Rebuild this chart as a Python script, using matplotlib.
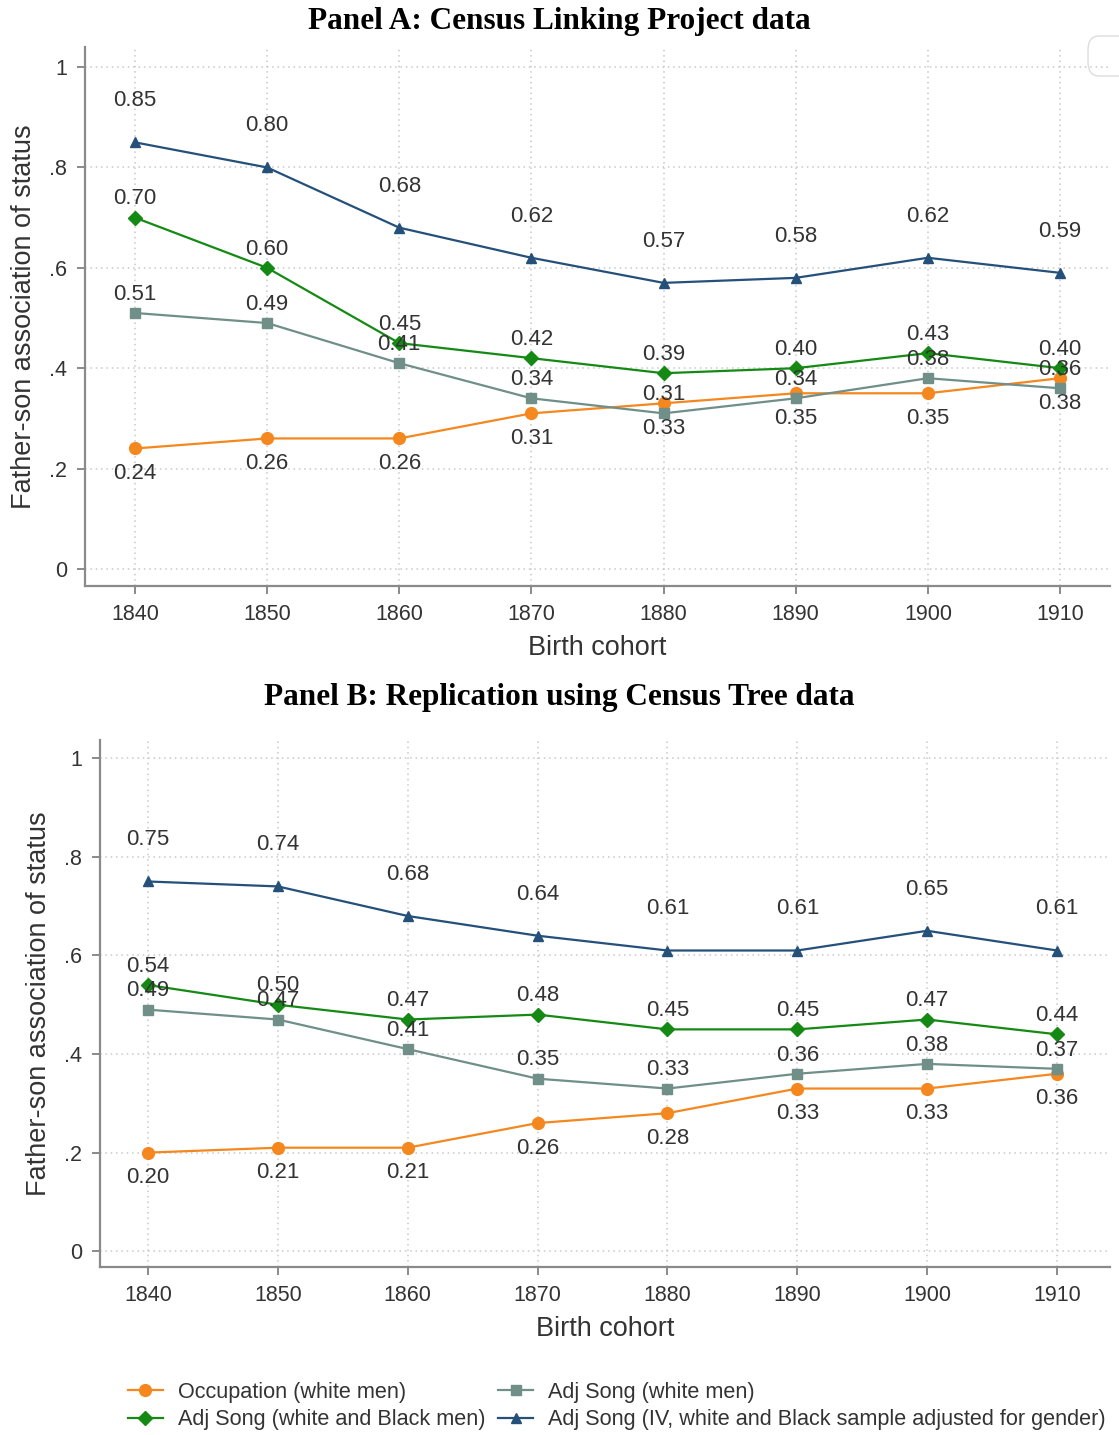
import matplotlib
matplotlib.use("Agg")
import matplotlib.pyplot as plt
from matplotlib.patches import FancyBboxPatch

# Birth cohorts and father-son associations
cohorts = [1840, 1850, 1860, 1870, 1880, 1890, 1900, 1910]

a_occupation = [0.24, 0.26, 0.26, 0.31, 0.33, 0.35, 0.35, 0.38]
a_song_white = [0.51, 0.49, 0.41, 0.34, 0.31, 0.34, 0.38, 0.36]
a_song_wb = [0.70, 0.60, 0.45, 0.42, 0.39, 0.40, 0.43, 0.40]
a_song_iv = [0.85, 0.80, 0.68, 0.62, 0.57, 0.58, 0.62, 0.59]

b_occupation = [0.20, 0.21, 0.21, 0.26, 0.28, 0.33, 0.33, 0.36]
b_song_white = [0.49, 0.47, 0.41, 0.35, 0.33, 0.36, 0.38, 0.37]
b_song_wb = [0.54, 0.50, 0.47, 0.48, 0.45, 0.45, 0.47, 0.44]
b_song_iv = [0.75, 0.74, 0.68, 0.64, 0.61, 0.61, 0.65, 0.61]

series_names = [
    "Occupation (white men)",
    "Adj Song (white men)",
    "Adj Song (white and Black men)",
    "Adj Song (IV, white and Black sample adjusted for gender)",
]
ytick_vals = [0, 0.2, 0.4, 0.6, 0.8, 1.0]
ytick_labels = ["0", ".2", ".4", ".6", ".8", "1"]

plt.rcParams["font.family"] = ["Liberation Sans", "DejaVu Sans"]

W, H = 1119, 1435
fig = plt.figure(figsize=(W / 100, H / 100), dpi=100)
fig.patch.set_facecolor("white")

ORANGE = "#F5871F"
GRAY = "#6F8F88"
GREEN = "#148A14"
BLUE = "#24507A"
TXT = "#333333"
AXC = "#8a8a8a"

styles = [
    dict(color=ORANGE, marker="o", ms=8.5, off=-18),
    dict(color=GRAY, marker="s", ms=7.5, off=13.5),
    dict(color=GREEN, marker="D", ms=7.5, off=13.5),
    dict(color=BLUE, marker="^", ms=7, off=30),
]


def px_axes(left, right, top, bottom):
    return fig.add_axes([left / W, 1 - bottom / H, (right - left) / W, (bottom - top) / H])


def draw_panel(ax, series, xlim, ylim, ylab_x):
    ax.set_xlim(*xlim)
    ax.set_ylim(*ylim)
    handles = []
    for vals, st, name in zip(series, styles, series_names):
        h, = ax.plot(cohorts, vals, color=st["color"], marker=st["marker"],
                     ms=st["ms"], lw=1.6, label=name, zorder=3)
        handles.append(h)
        for x, v in zip(cohorts, vals):
            ax.annotate(f"{v:.2f}", (x, v), xytext=(0, st["off"]),
                        textcoords="offset points", ha="center", va="center",
                        fontsize=16, color=TXT, zorder=4)
    ax.set_xticks(cohorts)
    ax.set_xticklabels([str(c) for c in cohorts])
    ax.set_yticks(ytick_vals)
    ax.set_yticklabels(ytick_labels)
    ax.grid(True, linestyle=(0, (1, 2.5)), color="#c8c8c8", linewidth=1.1)
    ax.set_axisbelow(True)
    for side in ["top", "right"]:
        ax.spines[side].set_visible(False)
    for side in ["left", "bottom"]:
        ax.spines[side].set_color(AXC)
        ax.spines[side].set_linewidth(1.6)
    ax.tick_params(axis="both", direction="out", length=6, width=1.4,
                   color=AXC, labelsize=15.5, labelcolor=TXT, pad=7)
    ax.set_xlabel("Birth cohort", fontsize=19.5, color=TXT, labelpad=7)
    ax.set_ylabel("Father-son association of status", fontsize=19.5, color=TXT)
    ax.yaxis.set_label_coords(ylab_x, 0.5)
    return handles


ax_a = px_axes(85, 1110, 47, 586)
draw_panel(ax_a, [a_occupation, a_song_white, a_song_wb, a_song_iv],
           (1836.22, 1913.78), (-0.034, 1.04), (37 - 85) / 1025)

ax_b = px_axes(100, 1110, 740, 1267)
handles = draw_panel(ax_b, [b_occupation, b_song_white, b_song_wb, b_song_iv],
                     (1836.30, 1914.08), (-0.032, 1.037), (52 - 100) / 1010)

title_font = ["Liberation Serif", "DejaVu Serif"]
fig.text(559 / W, 1 - 21 / H, "Panel A: Census Linking Project data",
         ha="center", va="center", fontsize=22.5, fontweight="bold",
         family=title_font, color="black")
fig.text(559 / W, 1 - 697 / H, "Panel B: Replication using Census Tree data",
         ha="center", va="center", fontsize=22.5, fontweight="bold",
         family=title_font, color="black")

# Legend: two columns, filled row by row
order = [0, 2, 1, 3]
fig.legend([handles[i] for i in order], [series_names[i] for i in order],
           ncol=2, loc="center", bbox_to_anchor=(617 / W, 1 - 1406 / H),
           frameon=False, fontsize=15.6, handlelength=1.6, columnspacing=0.6,
           handletextpad=0.7, labelspacing=0.32, labelcolor=TXT)

# faint rounded frame edge in the top-right corner
corner = FancyBboxPatch((1088 / W, 1 - 76 / H), 60 / W, 40 / H,
                        boxstyle="round,pad=0,rounding_size=0.01",
                        transform=fig.transFigure, fill=False,
                        edgecolor="#dddddd", linewidth=1.0)
fig.add_artist(corner)

fig.savefig("out.png", dpi=100, facecolor="white")
